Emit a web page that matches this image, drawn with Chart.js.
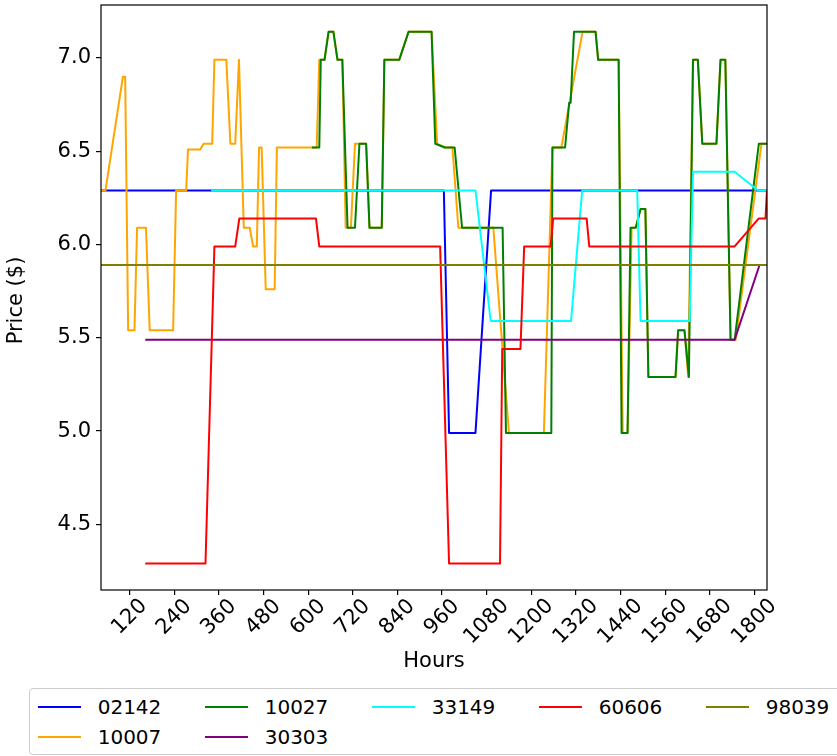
<!DOCTYPE html>
<html>
<head>
<meta charset="utf-8">
<script src="https://cdn.jsdelivr.net/npm/chart.js@4.4.0/dist/chart.umd.min.js"></script>
<style>
    html, body { margin: 0; padding: 0; background: #fff; }
    #wrap { position: relative; width: 837px; height: 756px; overflow: hidden; font-family: 'DejaVu Sans', sans-serif; }
    #chart { position: absolute; left: 0; top: 0; }
    .legend { position: absolute; left: 29px; top: 688px; width: 830px; height: 67px; border: 1px solid #ccc; border-radius: 4px; background: #fff; box-sizing: border-box; }
    .item { position: absolute; height: 24px; line-height: 24px; display: flex; align-items: center; font-size: 20px; color: #000; white-space: nowrap; }
    .swatch { width: 43px; height: 0; border-top: 2px solid; margin-right: 17px; }
</style>
</head>
<body>
<div id="wrap">
    <canvas id="chart" width="837" height="756"></canvas>
    <div class="legend" id="legend"></div>
</div>
<script>
// Axis ticks
const hourTicks = [120, 240, 360, 480, 600, 720, 840, 960, 1080, 1200, 1320, 1440, 1560, 1680, 1800];
const priceTicks = [4.5, 5.0, 5.5, 6.0, 6.5, 7.0];

// Series (zip codes, sorted)
const zipCodes = ['02142', '10007', '10027', '30303', '33149', '60606', '98039'];
const lineColors = ['#0000ff', '#ffa500', '#008000', '#800080', '#00ffff', '#ff0000', '#808000'];

const hours02142 = [43, 965, 979, 1050, 1092, 1834];
const price02142 = [6.29, 6.29, 4.99, 4.99, 6.29, 6.29];

const hours10007 = [43, 55, 102, 108, 116, 133, 140, 164, 174, 237, 245, 272, 277, 310, 319, 342, 348, 380, 391, 404,
    414, 427, 443, 452, 462, 468, 475, 486, 510, 516, 623, 630, 644, 655, 668, 679, 692, 701, 715, 726,
    756, 765, 798, 805, 845, 870, 932, 947, 968, 988, 1004, 1098, 1140, 1234, 1257, 1281, 1338, 1373, 1380, 1435,
    1446, 1459, 1470, 1481, 1494, 1507, 1515, 1588, 1595, 1612, 1622, 1635, 1648, 1660, 1698, 1709, 1722, 1736, 1750, 1819, 1834];
const price10007 = [6.29, 6.29, 6.90, 6.90, 5.54, 5.54, 6.09, 6.09, 5.54, 5.54, 6.29, 6.29, 6.51, 6.51, 6.54, 6.54, 6.99, 6.99, 6.54, 6.54,
    6.99, 6.09, 6.09, 5.99, 5.99, 6.52, 6.52, 5.76, 5.76, 6.52, 6.52, 6.99, 6.99, 7.14, 7.14, 6.99, 6.99, 6.09, 6.09, 6.54,
    6.54, 6.09, 6.09, 6.99, 6.99, 7.14, 7.14, 6.54, 6.52, 6.52, 6.09, 6.09, 4.99, 4.99, 6.52, 6.52, 7.14, 7.14, 6.99, 6.99,
    4.99, 4.99, 6.09, 6.09, 6.19, 6.19, 5.29, 5.29, 5.54, 5.54, 5.29, 6.99, 6.99, 6.54, 6.54, 6.99, 6.99, 5.49, 5.49, 6.54, 6.54];

const hours10027 = [610, 630, 634, 644, 655, 668, 679, 692, 706, 726, 738, 756, 765, 798, 805, 845, 870, 932, 942, 968,
    994, 1014, 1123, 1132, 1254, 1257, 1291, 1302, 1306, 1315, 1373, 1380, 1435, 1443, 1459, 1467, 1481, 1494, 1507, 1515,
    1588, 1595, 1612, 1624, 1635, 1648, 1660, 1698, 1709, 1722, 1736, 1747, 1812, 1834];
const price10027 = [6.52, 6.52, 6.99, 6.99, 7.14, 7.14, 6.99, 6.99, 6.09, 6.09, 6.54, 6.54, 6.09, 6.09, 6.99, 6.99, 7.14, 7.14, 6.54, 6.52,
    6.52, 6.09, 6.09, 4.99, 4.99, 6.52, 6.52, 6.76, 6.76, 7.14, 7.14, 6.99, 6.99, 4.99, 4.99, 6.09, 6.09, 6.19, 6.19, 5.29,
    5.29, 5.54, 5.54, 5.29, 6.99, 6.99, 6.54, 6.54, 6.99, 6.99, 5.49, 5.49, 6.54, 6.54];

const hours30303 = [162, 1747, 1814, 1834];
const price30303 = [5.49, 5.49, 5.89, 5.89];

const hours33149 = [339, 1050, 1091, 1307, 1337, 1485, 1494, 1626, 1635, 1747, 1810, 1834];
const price33149 = [6.29, 6.29, 5.59, 5.59, 6.29, 6.29, 5.59, 5.59, 6.39, 6.39, 6.29, 6.29];

const hours60606 = [162, 324, 348, 404, 415, 621, 630, 955, 979, 1116, 1122, 1171, 1181, 1252, 1259, 1349, 1356, 1747, 1812, 1830, 1834];
const price60606 = [4.29, 4.29, 5.99, 5.99, 6.14, 6.14, 5.99, 5.99, 4.29, 4.29, 5.44, 5.44, 5.99, 5.99, 6.14, 6.14, 5.99, 5.99, 6.14, 6.14, 6.29];

const hours98039 = [43, 1834];
const price98039 = [5.89, 5.89];

const seriesHours = [hours02142, hours10007, hours10027, hours30303, hours33149, hours60606, hours98039];
const seriesPrices = [price02142, price10007, price10027, price30303, price33149, price60606, price98039];

const FONT = "'DejaVu Sans', sans-serif";

const datasets = zipCodes.map((zip, i) => ({
    label: zip,
    data: seriesHours[i].map((h, j) => ({ x: h, y: seriesPrices[i][j] })),
    borderColor: lineColors[i],
    backgroundColor: lineColors[i],
    borderWidth: 2,
    borderJoinStyle: 'round',
    pointRadius: 0,
    tension: 0,
    fill: false,
    order: zipCodes.length - i   // later series drawn on top, like matplotlib
}));

// Frame, rotated hour labels and axis titles
const framePlugin = {
    id: 'frame',
    afterDraw(chart) {
        const ctx = chart.ctx;
        const a = chart.chartArea;
        ctx.save();
        ctx.strokeStyle = '#000';
        ctx.lineWidth = 1.2;
        ctx.strokeRect(a.left, a.top, a.right - a.left, a.bottom - a.top);

        ctx.fillStyle = '#000';
        ctx.font = '21px ' + FONT;
        const xs = chart.scales.x;
        hourTicks.forEach(h => {
            const text = String(h);
            const m = ctx.measureText(text);
            const w = m.actualBoundingBoxLeft + m.actualBoundingBoxRight;
            const px = xs.getPixelForValue(h);
            const cy = a.bottom + 8.5 + (w + 15.5) / (2 * Math.SQRT2);
            ctx.save();
            ctx.translate(px, cy);
            ctx.rotate(-Math.PI / 4);
            ctx.textAlign = 'center';
            ctx.textBaseline = 'middle';
            ctx.fillText(text, 0, 0);
            ctx.restore();
        });

        ctx.textAlign = 'center';
        ctx.textBaseline = 'middle';
        ctx.fillText('Hours', (a.left + a.right) / 2, 662);
        ctx.save();
        ctx.translate(17, (a.top + a.bottom) / 2 + 3);
        ctx.rotate(-Math.PI / 2);
        ctx.fillText('Price ($)', 0, 0);
        ctx.restore();
        ctx.restore();
    }
};

new Chart(document.getElementById('chart'), {
    type: 'line',
    data: { datasets: datasets },
    options: {
        responsive: false,
        animation: false,
        layout: { padding: { top: 5, right: 70, left: 0, bottom: 0 } },
        plugins: {
            legend: { display: false },
            tooltip: { enabled: false }
        },
        scales: {
            x: {
                type: 'linear',
                min: 43,
                max: 1834,
                afterFit: scale => {
                    scale.height = 166;
                    scale.paddingLeft = 0;
                    scale.paddingRight = 0;
                },
                afterBuildTicks: scale => { scale.ticks = hourTicks.map(v => ({ value: v })); },
                ticks: { display: false },
                grid: { drawOnChartArea: false, drawTicks: true, tickLength: 5, color: '#000', lineWidth: 1.2 },
                border: { display: false }
            },
            y: {
                type: 'linear',
                min: 4.148,
                max: 7.284,
                afterFit: scale => {
                    scale.width = 101;
                    scale.paddingTop = 0;
                    scale.paddingBottom = 0;
                },
                afterBuildTicks: scale => { scale.ticks = priceTicks.map(v => ({ value: v })); },
                ticks: {
                    color: '#000',
                    padding: 5,
                    font: { family: FONT, size: 21 },
                    callback: v => Number(v).toFixed(1)
                },
                grid: { drawOnChartArea: false, drawTicks: true, tickLength: 5, color: '#000', lineWidth: 1.2 },
                border: { display: false }
            }
        }
    },
    plugins: [framePlugin]
});

// Legend in matplotlib column-major order (5 columns)
const legend = document.getElementById('legend');
const ncol = 5;
const nrows = Math.floor(zipCodes.length / ncol);
const nLarge = zipCodes.length % ncol;
let idx = 0;
for (let c = 0; c < ncol; c++) {
    const count = c < nLarge ? nrows + 1 : nrows;
    for (let r = 0; r < count; r++) {
        const item = document.createElement('div');
        item.className = 'item';
        item.style.left = (7.7 + c * 167) + 'px';
        item.style.top = (5.7 + r * 30) + 'px';
        item.innerHTML = '<span class="swatch" style="border-color:' + lineColors[idx] + '"></span>' + zipCodes[idx];
        legend.appendChild(item);
        idx++;
    }
}
</script>
</body>
</html>
